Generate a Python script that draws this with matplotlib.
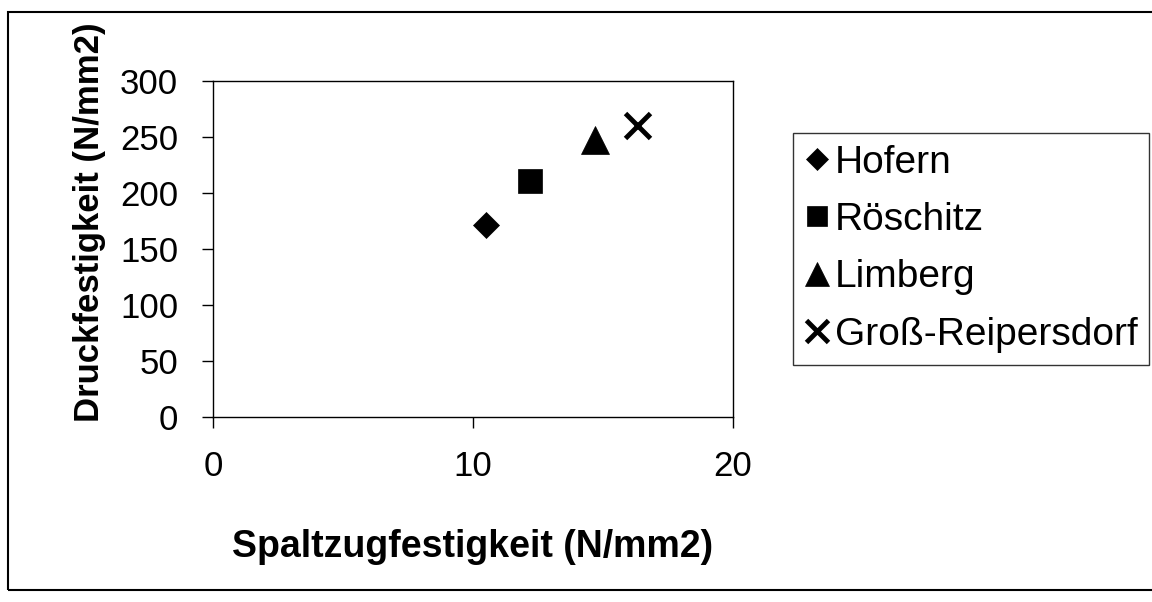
import matplotlib.pyplot as plt
from matplotlib.patches import Rectangle

plt.rcParams['font.family'] = ['Liberation Sans', 'DejaVu Sans']

# Werte
orte = ['Hofern', 'Röschitz', 'Limberg', 'Groß-Reipersdorf']
spaltzug = [10.5, 12.2, 14.7, 16.3]
druck = [171, 211, 247, 261]
marker = ['D', 's', '^', 'x']
groesse = [13.5, 17, 20, 18]

fig = plt.figure(figsize=(11.52, 6.02), dpi=100)
ax = fig.add_axes([0.1849, 0.3073, 0.4514, 0.5581])

for name, xv, yv, m, s in zip(orte, spaltzug, druck, marker, groesse):
    if m == 'x':
        ax.plot([xv], [yv], linestyle='none', marker=m, markersize=s,
                markeredgewidth=3.5, color='black', label=name)
    else:
        ax.plot([xv], [yv], linestyle='none', marker=m, markersize=s,
                markeredgewidth=0.5, color='black', label=name)

ax.set_xlim(0, 20)
ax.set_ylim(0, 300)
ax.set_xticks([0, 10, 20])
ax.set_yticks(range(0, 301, 50))
ax.tick_params(labelsize=25, length=8, width=1, color='black')
ax.tick_params(axis='y', pad=17)
ax.tick_params(axis='x', pad=16)
for s in ax.spines.values():
    s.set_linewidth(1)
    s.set_color('black')

ax.set_xlabel('Spaltzugfestigkeit (N/mm2)', fontsize=27, fontweight='bold', labelpad=33)
ax.set_ylabel('Druckfestigkeit (N/mm2)', fontsize=25, fontweight='bold')
ax.yaxis.set_label_coords(-0.206, 0.58)

leg = ax.legend(loc='upper left', bbox_to_anchor=(793 / 1152, 1 - 133 / 602),
                bbox_transform=fig.transFigure, markerscale=0.85,
                fontsize=28, frameon=True, fancybox=False, handlelength=0.62,
                handletextpad=0.15, borderpad=0.3, labelspacing=0.55, borderaxespad=0)
leg.get_frame().set_edgecolor('black')
leg.get_frame().set_linewidth(1)

# äußerer Rahmen
fig.patches.append(Rectangle((8 / 1152, 12 / 602), 1.2, 578 / 602, transform=fig.transFigure,
                             fill=False, edgecolor='black', linewidth=1.5))

fig.savefig('out.png', dpi=100)
